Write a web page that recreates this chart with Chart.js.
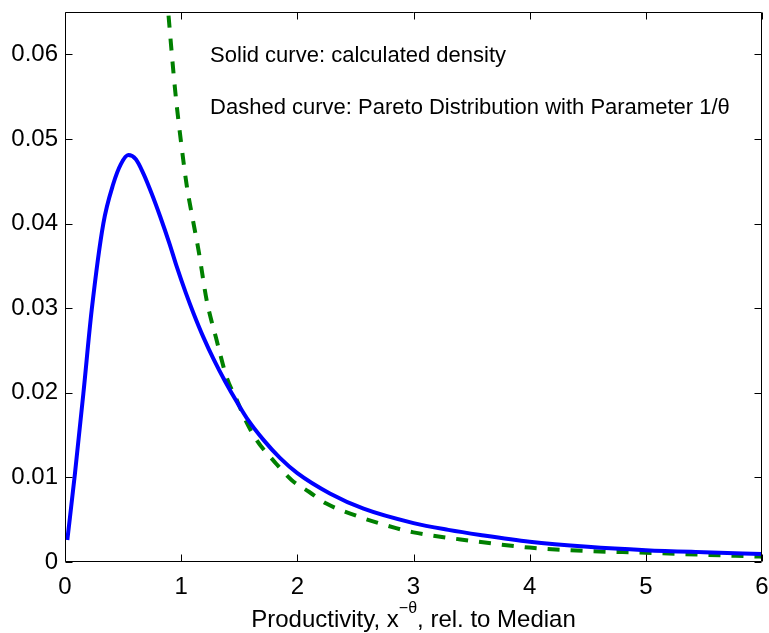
<!DOCTYPE html>
<html>
<head>
<meta charset="utf-8">
<script src="https://cdn.jsdelivr.net/npm/chart.js@4"></script>
<style>
  html, body { margin: 0; padding: 0; background: #fff; }
  #wrap { width: 769px; height: 633px; position: relative; }
</style>
</head>
<body>
<div id="wrap"><canvas id="c" width="769" height="633"></canvas></div>
<script>
// ---- data ----
const densityX = [0.02, 0.086, 0.158, 0.23, 0.33, 0.416, 0.48, 0.545, 0.61, 0.675, 0.75, 0.82, 0.90, 0.962, 1.04, 1.106, 1.19, 1.278, 1.38, 1.48, 1.58, 1.71, 1.85, 2.0, 2.28, 2.57, 3.0, 3.3, 3.575, 4.0, 4.5, 5.0, 5.5, 6.0];
const densityY = [0.0026, 0.0105, 0.0199, 0.0298, 0.0400, 0.0447, 0.0470, 0.0481, 0.0476, 0.0459, 0.0434, 0.0408, 0.0376, 0.0349, 0.0318, 0.0294, 0.0266, 0.0240, 0.0213, 0.0189, 0.0167, 0.0144, 0.0123, 0.0105, 0.0081, 0.0063, 0.0046, 0.0038, 0.0032, 0.0024, 0.0018, 0.0014, 0.00115, 0.00094];

const paretoX = [0.86, 0.89, 0.95, 1.00, 1.05, 1.10, 1.15, 1.22, 1.30, 1.39, 1.48, 1.56, 1.65, 1.80, 1.95, 2.10, 2.25, 2.50, 2.85, 3.00, 3.50, 4.00, 4.50, 5.00, 5.50, 6.00];
const paretoY = [0.0700, 0.0648, 0.0555, 0.0495, 0.0443, 0.0405, 0.0368, 0.0309, 0.0265, 0.0219, 0.0191, 0.0166, 0.0144, 0.0119, 0.0097, 0.0083, 0.0069, 0.0055, 0.0040, 0.0035, 0.0025, 0.0017, 0.0013, 0.0011, 0.00085, 0.00063];

const xTickValues = [0, 1, 2, 3, 4, 5, 6];
const xTickLabels = ['0', '1', '2', '3', '4', '5', '6'];
const yTickValues = [0, 0.01, 0.02, 0.03, 0.04, 0.05, 0.06];
const yTickLabels = ['0', '0.01', '0.02', '0.03', '0.04', '0.05', '0.06'];

const noteLines = ['Solid curve: calculated density', 'Dashed curve: Pareto Distribution with Parameter 1/\u03B8'];
const noteX = [1.249, 1.249];
const noteY = [0.0591, 0.0530];

const xTitleParts = ['Productivity, x', '\u2212\u03B8', ', rel. to Median'];

// ---- chart ----
const FONT = '"Liberation Sans", Arial, Helvetica, sans-serif';

function toPoints(xs, ys) { return xs.map((x, i) => ({ x: x, y: ys[i] })); }

const framePlugin = {
  id: 'frame',
  afterDraw(chart) {
    const ctx = chart.ctx;
    const a = chart.chartArea;
    const xs = chart.scales.x, ys = chart.scales.y;
    const L = Math.round(a.left) + 0.5, R = Math.round(a.right) - 0.5;
    const T = Math.round(a.top) + 0.5, B = Math.round(a.bottom) - 0.5;
    const tl = 7;
    ctx.save();
    ctx.strokeStyle = '#000';
    ctx.lineWidth = 1;
    ctx.beginPath();
    ctx.rect(L, T, R - L, B - T);
    xTickValues.forEach(v => {
      const px = Math.round(xs.getPixelForValue(v)) + 0.5;
      ctx.moveTo(px, B); ctx.lineTo(px, B - tl);
      ctx.moveTo(px, T); ctx.lineTo(px, T + tl);
    });
    yTickValues.forEach(v => {
      const py = Math.round(ys.getPixelForValue(v)) + 0.5;
      ctx.moveTo(L, py); ctx.lineTo(L + tl, py);
      ctx.moveTo(R, py); ctx.lineTo(R - tl, py);
    });
    ctx.stroke();

    // annotations
    ctx.fillStyle = '#000';
    ctx.textBaseline = 'alphabetic';
    ctx.textAlign = 'left';
    ctx.font = '22px ' + FONT;
    noteLines.forEach((t, i) => {
      ctx.fillText(t, xs.getPixelForValue(noteX[i]), ys.getPixelForValue(noteY[i]));
    });

    // x-axis title with superscript
    const mainFont = '24px ' + FONT, supFont = '16px ' + FONT;
    ctx.font = mainFont; const w0 = ctx.measureText(xTitleParts[0]).width;
    ctx.font = supFont; const w1 = ctx.measureText(xTitleParts[1]).width;
    ctx.font = mainFont; const w2 = ctx.measureText(xTitleParts[2]).width;
    const total = w0 + w1 + w2;
    let x0 = (a.left + a.right) / 2 - total / 2;
    const base = 627;
    ctx.font = mainFont; ctx.fillText(xTitleParts[0], x0, base);
    ctx.font = supFont; ctx.fillText(xTitleParts[1], x0 + w0, base - 14);
    ctx.font = mainFont; ctx.fillText(xTitleParts[2], x0 + w0 + w1, base);
    ctx.restore();
  }
};

new Chart(document.getElementById('c'), {
  type: 'scatter',
  data: {
    datasets: [
      {
        label: 'density',
        data: toPoints(densityX, densityY),
        showLine: true,
        borderColor: '#0000FF',
        borderWidth: 4,
        pointRadius: 0,
        cubicInterpolationMode: 'monotone',
        fill: false
      },
      {
        label: 'pareto',
        data: toPoints(paretoX, paretoY),
        showLine: true,
        borderColor: '#008000',
        borderWidth: 4,
        borderDash: [12, 11],
        pointRadius: 0,
        cubicInterpolationMode: 'monotone',
        fill: false
      }
    ]
  },
  options: {
    responsive: false,
    animation: false,
    layout: { padding: { top: 12, right: 7, left: 0, bottom: 0 } },
    plugins: { legend: { display: false }, tooltip: { enabled: false } },
    scales: {
      x: {
        type: 'linear',
        min: 0, max: 6,
        afterBuildTicks: s => { s.ticks = xTickValues.map(v => ({ value: v })); },
        afterFit: s => { s.height = 71; s.paddingLeft = 0; s.paddingRight = 0; },
        grid: { display: false, drawTicks: false },
        border: { display: false },
        ticks: {
          color: '#000',
          font: { family: FONT, size: 24 },
          padding: 11,
          maxRotation: 0,
          callback: (v, i) => xTickLabels[i]
        }
      },
      y: {
        type: 'linear',
        min: 0, max: 0.065,
        afterBuildTicks: s => { s.ticks = yTickValues.map(v => ({ value: v })); },
        afterFit: s => { s.width = 65; s.paddingTop = 0; s.paddingBottom = 0; },
        grid: { display: false, drawTicks: false },
        border: { display: false },
        ticks: {
          color: '#000',
          font: { family: FONT, size: 24 },
          padding: 7,
          callback: (v, i) => yTickLabels[i]
        }
      }
    }
  },
  plugins: [framePlugin]
});
</script>
</body>
</html>
